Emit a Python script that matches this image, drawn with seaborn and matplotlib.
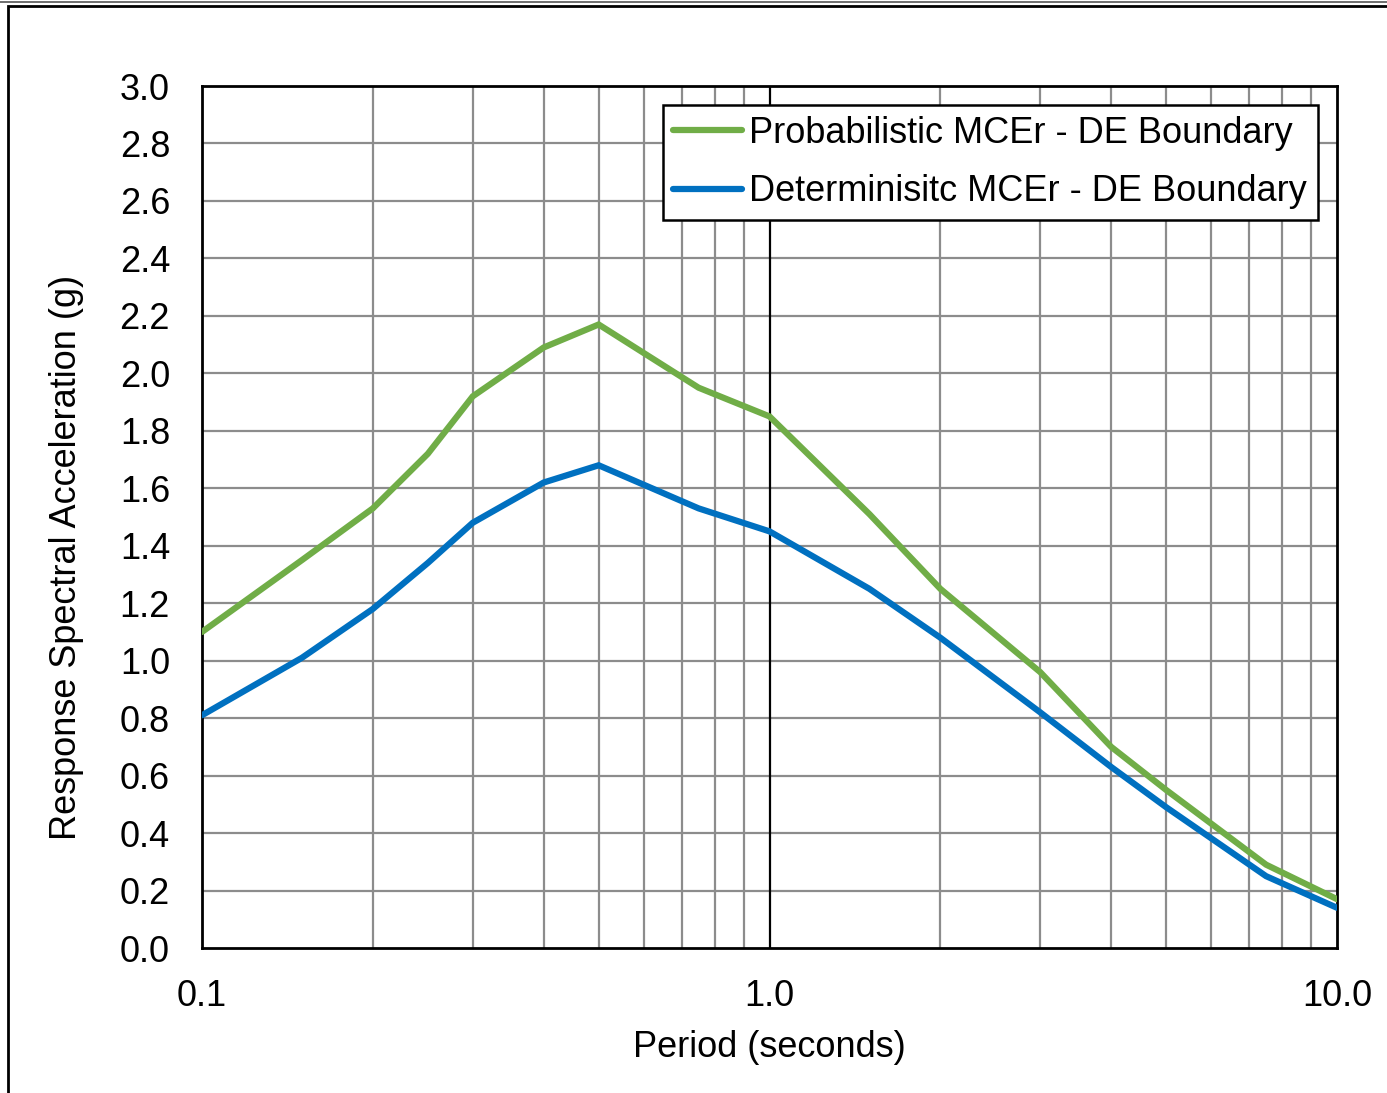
import matplotlib
matplotlib.use("Agg")
import matplotlib.pyplot as plt
import matplotlib.ticker as mticker
from matplotlib.lines import Line2D
from matplotlib.patches import Rectangle
import seaborn as sns
import pandas as pd
import numpy as np

periods = [0.1, 0.15, 0.2, 0.25, 0.3, 0.4, 0.5, 0.75, 1.0, 1.5, 2.0, 3.0, 4.0, 5.0, 7.5, 10.0]
probabilistic = [1.10, 1.35, 1.53, 1.72, 1.92, 2.09, 2.17, 1.95, 1.85, 1.51, 1.25, 0.96, 0.70, 0.55, 0.29, 0.17]
deterministic = [0.81, 1.01, 1.18, 1.34, 1.48, 1.62, 1.68, 1.53, 1.45, 1.25, 1.08, 0.82, 0.63, 0.49, 0.25, 0.14]
series_names = ["Probabilistic MCEr - DE Boundary", "Determinisitc MCEr - DE Boundary"]
colors = ["#70AD47", "#0070C0"]
y_ticks = [0.0, 0.2, 0.4, 0.6, 0.8, 1.0, 1.2, 1.4, 1.6, 1.8, 2.0, 2.2, 2.4, 2.6, 2.8, 3.0]
x_ticks = [0.1, 1.0, 10.0]
x_tick_labels = ["0.1", "1.0", "10.0"]

df = pd.DataFrame({
    "Period": periods * 2,
    "Sa": probabilistic + deterministic,
    "Series": [series_names[0]] * len(periods) + [series_names[1]] * len(periods),
})

sns.set_theme(style="white")
plt.rcParams["font.family"] = ["Liberation Sans", "DejaVu Sans"]
plt.rcParams["text.color"] = "black"
plt.rcParams["axes.labelcolor"] = "black"

fig = plt.figure(figsize=(13.87, 10.93), dpi=100)
ax = fig.add_axes([202/1387, 1-948/1093, (1337-202)/1387, (948-86)/1093])

ax.set_xscale("log")
ax.set_xlim(0.1, 10)
ax.set_ylim(0, 3.0)

# grid
grid_color = "#8c8c8c"
for yv in y_ticks[1:-1]:
    ax.axhline(yv, color=grid_color, lw=1.6, zorder=0)
for dec in [0.1, 1.0]:
    for m in range(2, 10):
        ax.axvline(dec * m, color=grid_color, lw=1.6, zorder=0)
ax.axvline(1.0, color="black", lw=1.6, zorder=0.5)

sns.lineplot(data=df, x="Period", y="Sa", hue="Series", palette=colors,
             hue_order=series_names, lw=4.5, ax=ax, legend=False, zorder=3,
             solid_joinstyle="miter")

ax.set_yticks(y_ticks)
ax.set_yticklabels([f"{v:.1f}" for v in y_ticks])
ax.xaxis.set_major_locator(mticker.FixedLocator(x_ticks))
ax.xaxis.set_minor_locator(mticker.NullLocator())
ax.set_xticklabels(x_tick_labels)
ax.tick_params(axis="both", length=0, labelsize=26, colors="black")
ax.tick_params(axis="y", pad=23)
ax.tick_params(axis="x", pad=22)

ax.set_xlabel("Period (seconds)", fontsize=26, labelpad=12, color="black")
ax.set_ylabel("Response Spectral Acceleration (g)", fontsize=26, color="black")
ax.yaxis.set_label_coords((84-202)/1135, (948-557)/862)

for s in ax.spines.values():
    s.set_visible(True)
    s.set_color("black")
    s.set_linewidth(2.0)

handles = [Line2D([0], [0], color=c, lw=4.5, solid_capstyle="round") for c in colors]
leg = ax.legend(handles, series_names, loc="upper right",
                bbox_to_anchor=((1318-202)/(1337-202), (948-105)/(948-86)),
                fontsize=26, frameon=True, fancybox=False, handlelength=1.9,
                handletextpad=0.2, borderpad=0.3, labelspacing=0.65,
                borderaxespad=0, labelcolor="black")
leg.get_frame().set_edgecolor("black")
leg.get_frame().set_linewidth(1.8)
leg.get_frame().set_alpha(1)
leg.set_zorder(5)

# outer frame
fig.add_artist(Line2D([0, 1], [1-1.5/1093, 1-1.5/1093], color="#555555", lw=1.2, transform=fig.transFigure))
fig.add_artist(Rectangle((8/1387, -0.05), 1.1, 1-5.5/1093+0.05, transform=fig.transFigure,
                         fill=False, edgecolor="black", lw=2.0))

fig.savefig("out.png", dpi=100)
